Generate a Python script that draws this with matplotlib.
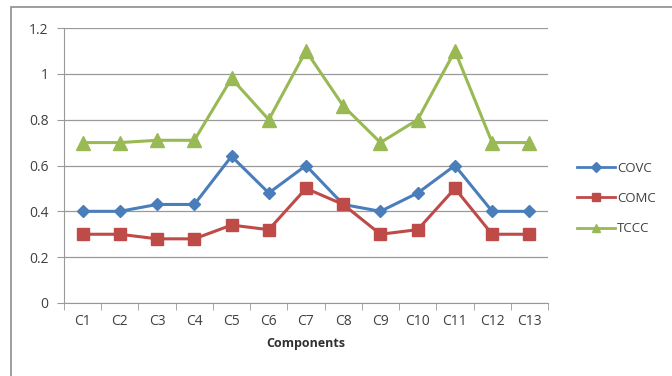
import numpy as np
import matplotlib
matplotlib.use("Agg")
import matplotlib.pyplot as plt
from matplotlib.patches import Rectangle

categories = ["C1", "C2", "C3", "C4", "C5", "C6", "C7", "C8", "C9", "C10", "C11", "C12", "C13"]
covc = [0.40, 0.40, 0.43, 0.43, 0.64, 0.48, 0.60, 0.43, 0.40, 0.48, 0.60, 0.40, 0.40]
comc = [0.30, 0.30, 0.28, 0.28, 0.34, 0.32, 0.50, 0.43, 0.30, 0.32, 0.50, 0.30, 0.30]
tccc = [0.70, 0.70, 0.71, 0.71, 0.98, 0.80, 1.10, 0.86, 0.70, 0.80, 1.10, 0.70, 0.70]
y_ticks = [0, 0.2, 0.4, 0.6, 0.8, 1, 1.2]

plt.rcParams["font.family"] = ["Open Sans", "DejaVu Sans"]

fig = plt.figure(figsize=(6.72, 3.76), dpi=100, facecolor="white")
W, H = 672, 376
ax = fig.add_axes([64 / W, 1 - 303 / H, (548 - 64) / W, (303 - 28) / H])

# outer chart frame
fig.patches.append(Rectangle((11 / W, -0.02), 1.0, 1 - 7 / H + 0.02,
                             transform=fig.transFigure, fill=False,
                             edgecolor="#8c8c8c", linewidth=1.2))

x = np.arange(len(categories))
series = [
    ("COVC", covc, "#4a7ebb", "D", 6.5),
    ("COMC", comc, "#be4b48", "s", 8.5),
    ("TCCC", tccc, "#98b954", "^", 9.5),
]
for name, vals, col, mk, ms in series:
    ax.plot(x, vals, color=col, linewidth=2.2, marker=mk, markersize=ms,
            markerfacecolor=col, markeredgecolor=col, label=name, zorder=3)

ax.set_xlim(-0.5, len(categories) - 0.5)
ax.set_ylim(0, 1.2)
ax.set_yticks(y_ticks)
ax.set_yticklabels(["0", "0.2", "0.4", "0.6", "0.8", "1", "1.2"])
ax.set_xticks(x)
ax.set_xticklabels(categories)
ax.set_xticks(np.arange(-0.5, len(categories), 1), minor=True)

ax.grid(axis="y", color="#999999", linewidth=0.9, zorder=0)
for s in ["top", "right"]:
    ax.spines[s].set_visible(False)
ax.spines["left"].set_color("#999999")
ax.spines["bottom"].set_color("#999999")
ax.tick_params(axis="x", which="major", length=0, pad=8, labelsize=10, colors="#404040")
ax.tick_params(axis="x", which="minor", length=5, color="#999999")
ax.tick_params(axis="y", length=5, color="#999999", pad=6, labelsize=10, colors="#404040")

ax.set_xlabel("Components", fontsize=9, fontweight="bold", color="#303030", labelpad=6)

leg = ax.legend(loc="center left", bbox_to_anchor=(1.035, 0.38), frameon=False,
                fontsize=9.5, handlelength=2.9, labelspacing=1.3, handletextpad=0.15,
                labelcolor="#404040")
for h in leg.legend_handles:
    h.set_markersize(5.5)
    h.set_linewidth(2)

fig.savefig("out.png", dpi=100, facecolor="white")
